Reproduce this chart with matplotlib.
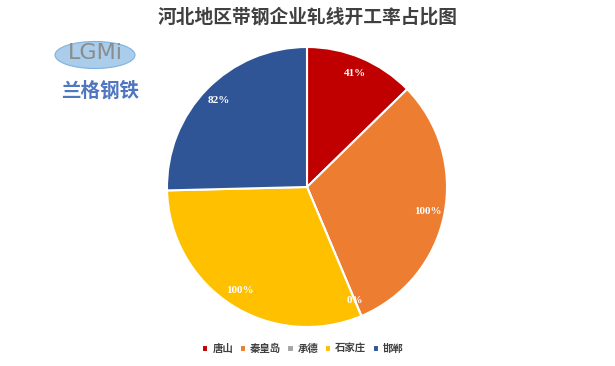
import matplotlib.pyplot as plt
from matplotlib.patches import Ellipse

# data
regions = ['唐山', '秦皇岛', '承德', '石家庄', '邯郸']
rates = [41, 100, 0, 100, 82]
colors = ['#C00000', '#ED7D31', '#A5A5A5', '#FFC000', '#2F5597']

plt.rcParams['font.family'] = ['Noto Sans CJK SC', 'DejaVu Sans']

fig = plt.figure(figsize=(6.15, 3.66), dpi=100)
fig.patch.set_facecolor('white')

# axes in pixel units so the pie lands where it should
ax = fig.add_axes([0, 0, 1, 1])

wedges, texts, autotexts = ax.pie(
    rates, colors=colors, startangle=90, counterclock=False,
    center=(307, 179), radius=140,
    autopct=lambda p: '%d%%' % round(p * sum(rates) / 100),
    pctdistance=0.88,
    wedgeprops=dict(edgecolor='white', linewidth=1.5),
    frame=True)
ax.set_xlim(0, 615)
ax.set_ylim(0, 366)
ax.axis('off')

for t in autotexts:
    t.set_color('white')
    t.set_fontfamily('Liberation Serif')
    t.set_fontweight('bold')
    t.set_fontsize(8)

# title
fig.text(0.5, 1 - 17 / 366, '河北地区带钢企业轧线开工率占比图', ha='center', va='center',
         fontsize=13.5, fontweight='bold', color='#404040')

# legend
fig.legend(wedges, regions, loc='center', bbox_to_anchor=(303 / 615, 1 - 349 / 366),
           ncol=5, frameon=False, prop=dict(size=7.5, weight='bold'),
           handlelength=0.6, handleheight=0.6,
           handletextpad=0.4, columnspacing=0.6, labelcolor='#404040')

# logo (rough)
ax.add_patch(Ellipse((95, 311), 80, 27, facecolor='#A9CDEB', edgecolor='#7FB2DE', lw=0.8))
ax.text(95, 313, 'LGMi', ha='center', va='center', fontsize=16,
        color='#8C8C8C', family='DejaVu Sans')
ax.text(100, 275, '兰格钢铁', ha='center', va='center', fontsize=14, color='#4F76C0',
        style='italic', fontweight='bold')

fig.savefig('out.png', dpi=100)
